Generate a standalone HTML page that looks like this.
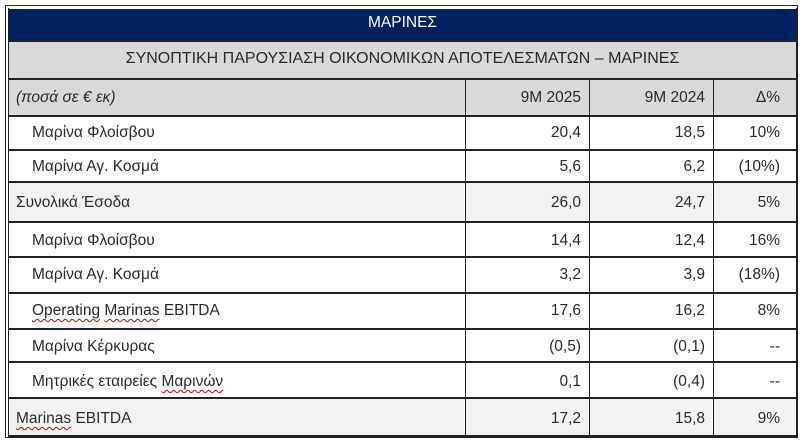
<!DOCTYPE html><html><head><meta charset="utf-8"><style>
body{margin:0;width:807px;height:443px;background:#fff;position:relative;overflow:hidden;font-family:"Liberation Sans","DejaVu Sans",sans-serif;font-size:15.5px;color:#2a2a2a}
.a{position:absolute;box-sizing:border-box}
.h{border-top:2px solid #222;left:8px;width:789px;height:0}
.v{border-left:1px solid #222;width:0}
.t{position:absolute;white-space:nowrap;line-height:18px}
.r{text-align:right}
.u{text-decoration:underline wavy #c00;text-decoration-thickness:1px;text-underline-offset:3px}
</style></head><body>
<div class="a" style="left:5px;top:5px;width:793px;height:433px;border:1px solid #222"></div>
<div class="a" style="left:8px;top:8px;width:789px;height:429px;border-left:1px solid #222;border-right:1px solid #222"></div>
<div class="a" style="left:9px;top:9px;width:787px;height:31px;background:#002060"></div>
<div class="a" style="left:9px;top:41px;width:787px;height:75px;background:#d9d9d9"></div>
<div class="a" style="left:9px;top:182px;width:787px;height:40px;background:#f2f2f2"></div>
<div class="a" style="left:9px;top:399px;width:787px;height:37px;background:#f2f2f2"></div>
<div class="a h" style="top:40px"></div>
<div class="a h" style="top:78px"></div>
<div class="a h" style="top:115px"></div>
<div class="a h" style="top:149px"></div>
<div class="a h" style="top:181px"></div>
<div class="a h" style="top:221px"></div>
<div class="a h" style="top:256px"></div>
<div class="a h" style="top:292px"></div>
<div class="a h" style="top:328px"></div>
<div class="a h" style="top:361px"></div>
<div class="a h" style="top:397px"></div>
<div class="a h" style="top:435px"></div>
<div class="a v" style="left:465px;top:79px;height:357px"></div>
<div class="a v" style="left:589px;top:79px;height:357px"></div>
<div class="a v" style="left:713px;top:79px;height:357px"></div>
<div class="t" style="left:9px;width:787px;top:14px;text-align:center;color:#fff">ΜΑΡΙΝΕΣ</div>
<div class="t" style="left:9px;width:787px;top:50px;text-align:center;font-size:16px">ΣΥΝΟΠΤΙΚΗ ΠΑΡΟΥΣΙΑΣΗ ΟΙΚΟΝΟΜΙΚΩΝ ΑΠΟΤΕΛΕΣΜΑΤΩΝ – ΜΑΡΙΝΕΣ</div>
<div class="t" style="left:16px;top:89px;font-style:italic">(ποσά σε € εκ)</div>
<div class="t r" style="left:466px;width:115px;top:89px">9M 2025</div>
<div class="t r" style="left:590px;width:115px;top:89px">9M 2024</div>
<div class="t r" style="left:714px;width:66px;top:89px">Δ%</div>

<div class="t" style="left:32px;top:124px">Μαρίνα Φλοίσβου</div>
<div class="t r" style="left:466px;width:115px;top:124px">20,4</div><div class="t r" style="left:590px;width:115px;top:124px">18,5</div><div class="t r" style="left:714px;width:66px;top:124px">10%</div>
<div class="t" style="left:32px;top:158px">Μαρίνα Αγ. Κοσμά</div>
<div class="t r" style="left:466px;width:115px;top:158px">5,6</div><div class="t r" style="left:590px;width:115px;top:158px">6,2</div><div class="t r" style="left:714px;width:66px;top:158px">(10%)</div>
<div class="t" style="left:16px;top:194px">Συνολικά Έσοδα</div>
<div class="t r" style="left:466px;width:115px;top:194px">26,0</div><div class="t r" style="left:590px;width:115px;top:194px">24,7</div><div class="t r" style="left:714px;width:66px;top:194px">5%</div>
<div class="t" style="left:32px;top:232px">Μαρίνα Φλοίσβου</div>
<div class="t r" style="left:466px;width:115px;top:232px">14,4</div><div class="t r" style="left:590px;width:115px;top:232px">12,4</div><div class="t r" style="left:714px;width:66px;top:232px">16%</div>
<div class="t" style="left:32px;top:266px">Μαρίνα Αγ. Κοσμά</div>
<div class="t r" style="left:466px;width:115px;top:266px">3,2</div><div class="t r" style="left:590px;width:115px;top:266px">3,9</div><div class="t r" style="left:714px;width:66px;top:266px">(18%)</div>
<div class="t" style="left:32px;top:302px"><span class="u">Operating</span> <span class="u">Marinas</span> EBITDA</div>
<div class="t r" style="left:466px;width:115px;top:302px">17,6</div><div class="t r" style="left:590px;width:115px;top:302px">16,2</div><div class="t r" style="left:714px;width:66px;top:302px">8%</div>
<div class="t" style="left:32px;top:338px">Μαρίνα Κέρκυρας</div>
<div class="t r" style="left:466px;width:115px;top:338px">(0,5)</div><div class="t r" style="left:590px;width:115px;top:338px">(0,1)</div><div class="t r" style="left:714px;width:66px;top:338px">--</div>
<div class="t" style="left:32px;top:373px">Μητρικές εταιρείες <span class="u">Μαρινών</span></div>
<div class="t r" style="left:466px;width:115px;top:373px">0,1</div><div class="t r" style="left:590px;width:115px;top:373px">(0,4)</div><div class="t r" style="left:714px;width:66px;top:373px">--</div>
<div class="t" style="left:16px;top:410px"><span class="u">Marinas</span> EBITDA</div>
<div class="t r" style="left:466px;width:115px;top:410px">17,2</div><div class="t r" style="left:590px;width:115px;top:410px">15,8</div><div class="t r" style="left:714px;width:66px;top:410px">9%</div>
</body></html>
